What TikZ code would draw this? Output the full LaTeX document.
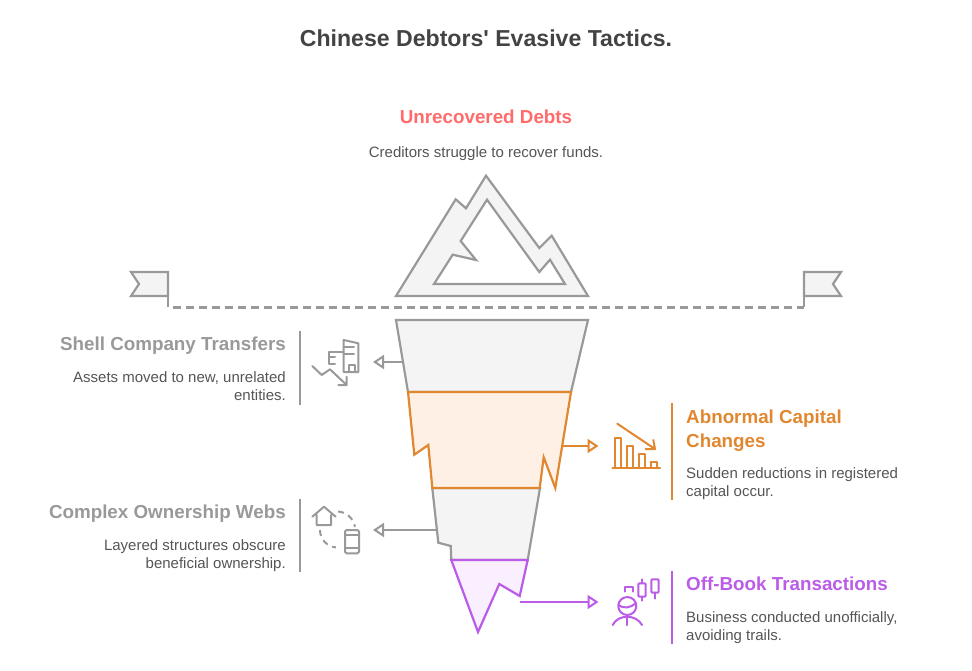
\documentclass[tikz,border=0pt]{standalone}
\usepackage{fontspec}
\setmainfont{Liberation Sans}
\usetikzlibrary{arrows.meta}
\definecolor{ink}{HTML}{434343}
\definecolor{body}{HTML}{555555}
\definecolor{rock}{HTML}{999999}
\definecolor{rockfill}{HTML}{F4F4F4}
\definecolor{redhead}{HTML}{FF6B6B}
\definecolor{orangeline}{HTML}{E0872F}
\definecolor{orangefill}{HTML}{FEF0E4}
\definecolor{purpleline}{HTML}{BB5CE8}
\definecolor{purplefill}{HTML}{F9EFFF}
\tikzset{
  title/.style={font=\bfseries\fontsize{23.1}{28}\selectfont,text=ink,inner sep=0pt,anchor=base},
  heading/.style={font=\bfseries\fontsize{18.8}{24}\selectfont,inner sep=0pt},
  blurb/.style={font=\fontsize{15}{18}\selectfont,text=body,inner sep=0pt},
  layer/.style={line width=2.2pt,line join=miter},
  icon/.style={line width=2pt,line cap=round,line join=round},
}
\begin{document}
\begin{tikzpicture}[>={Triangle[open,length=11pt,width=14pt]},x=1pt,y=-1pt]
	\useasboundingbox (0,0) rectangle (972,670);
	\node[title] (mainTitle) at (486,46) {Chinese Debtors\textquotesingle{} Evasive Tactics.};
	\node[heading,text=redhead,anchor=base] (topHead) at (486,123) {Unrecovered Debts};
	\node[blurb,anchor=base] (topText) at (486,157) {Creditors struggle to recover funds.};
	% flags and water line
	\coordinate (flagLeft) at (168,307.5);
	\coordinate (flagRight) at (804,307.5);
	\draw[layer,rock,fill=rockfill] (168,296) -- (131,296) -- (139,284) -- (131,272) -- (168,272) -- cycle;
	\draw[layer,rock,fill=rockfill] (804,296) -- (841,296) -- (833,284) -- (841,272) -- (804,272) -- cycle;
	\draw[layer,rock,dash pattern=on 8pt off 5pt,dash phase=-5pt] (flagLeft) -- (flagRight);
	\draw[layer,rock] (168,296) -- ([yshift=1pt]flagLeft);
	\draw[layer,rock] (804,296) -- ([yshift=1pt]flagRight);
	% peak
	\draw[layer,rock,fill=rockfill,even odd rule] (396,296) -- (455.7,199.3) -- (466,208.3) -- (486,175.7) -- (539.3,248) -- (551.7,235.7) -- (588,296) -- cycle
		(487,199.7) -- (460.7,241) -- (476,260) -- (452.7,254.7) -- (434,284) -- (565,284) -- (550,259.7) -- (539.3,272) -- cycle;
	% funnel
	\draw[layer,rock,fill=rockfill] (396,320) -- (588,320) -- (571,392) -- (408,392) -- cycle;
	\draw[layer,rock,fill=rockfill] (432.3,488) -- (540,488) -- (527.7,560) -- (451.3,560) -- (450.7,546) -- (438.3,542.7) -- cycle;
	\draw[layer,orangeline,fill=orangefill] (408,392) -- (571,392) -- (555.3,488) -- (543.7,457.3) -- (539.7,488) -- (432.3,488) -- (428.3,445) -- (414.3,454.7) -- cycle;
	\draw[layer,purpleline,fill=purplefill] (451.3,560) -- (527.7,560) -- (519.7,596) -- (499.3,584) -- (478,632) -- cycle;
	% connectors
	\coordinate (shellFrom) at (403.5,362);
	\coordinate (shellTo) at (373,362);
	\coordinate (websFrom) at (436,530);
	\coordinate (websTo) at (373,530);
	\coordinate (capFrom) at (562,446);
	\coordinate (capTo) at (598.5,446);
	\coordinate (bookFrom) at (519.5,602);
	\coordinate (bookTo) at (598.5,602);
	\draw[->,line width=2pt,rock] (shellFrom) -- (shellTo);
	\draw[->,line width=2pt,rock] (websFrom) -- (websTo);
	\draw[->,line width=2pt,orangeline] (capFrom) -- (capTo);
	\draw[->,line width=2pt,purpleline] (bookFrom) -- (bookTo);
	% rules beside the texts
	\draw[line width=2pt,rock] (300,331) -- (300,404.5);
	\draw[line width=2pt,rock] (300,499) -- (300,572);
	\draw[line width=2pt,orangeline] (672,403) -- (672,500);
	\draw[line width=2pt,purpleline] (672,571) -- (672,644);
	% left texts
	\node[heading,text=rock,anchor=base east] (shellHead) at (286,350.5) {Shell Company Transfers};
	\node[blurb,align=right,anchor=base east] (shellText) at (286,400) {Assets moved to new, unrelated\\entities.};
	\node[heading,text=rock,anchor=base east] (websHead) at (286,518.5) {Complex Ownership Webs};
	\node[blurb,align=right,anchor=base east] (websText) at (286,568) {Layered structures obscure\\beneficial ownership.};
	% right texts
	\node[heading,text=orangeline,align=left,anchor=base west] (capHead) at (686,447) {Abnormal Capital\\Changes};
	\node[blurb,align=left,anchor=base west] (capText) at (686,496) {Sudden reductions in registered\\capital occur.};
	\node[heading,text=purpleline,anchor=base west] (bookHead) at (686,590.5) {Off-Book Transactions};
	\node[blurb,align=left,anchor=base west] (bookText) at (686,640) {Business conducted unofficially,\\avoiding trails.};
	% building icon
	\draw[icon,rock] (343.7,372) -- (343.7,340) -- (358.3,343.3) -- (358.3,372) -- cycle;
	\draw[icon,rock] (343.7,347) -- (354,347) (343.7,354) -- (354,354) (348.5,372) -- (348.5,364.5) -- (354.5,364.5) -- (354.5,372);
	\draw[icon,rock] (343.7,351.7) -- (329,351.7) -- (329,363.5) (329,357) -- (335,357) (329,363.5) -- (335,363.5);
	\draw[icon,rock] (312.3,366) -- (321.7,375) -- (330,369.3) -- (346.7,385) (346.7,376.7) -- (346.7,385) -- (338.3,385);
	% house and phone icon
	\draw[icon,rock] (312.3,516.7) -- (324,506.7) -- (335.7,516.7) (316.7,515) -- (316.7,525) -- (331,525) -- (331,515);
	\draw[icon,rock,rounded corners=1.5pt] (345,530) rectangle (359,553.3);
	\draw[icon,rock] (345,535) -- (359,535) (345,548.3) -- (359,548.3);
	\draw[icon,rock,dash pattern=on 6pt off 5pt,line cap=butt] (338,511.5) arc[start angle=-86,end angle=-10,radius=18.5];
	\draw[icon,rock,dash pattern=on 6pt off 5pt,line cap=butt] (320,530) arc[start angle=180,end angle=95,radius=17.5];
	% bars icon
	\draw[icon,orangeline] (612.3,468) -- (660,468);
	\foreach \barx/\bartop in {614.7/437.7,627/445.7,639/453.7,651/462}
		\draw[icon,orangeline] (\barx,468) -- (\barx,\bartop) -- ({\barx+6.3},\bartop) -- ({\barx+6.3},468);
	\draw[icon,orangeline] (617.3,423.7) -- (655,449) (653.3,440) -- (655,449) -- (645.7,449);
	% person and candles icon
	\draw[icon,purpleline] (627.3,606) circle[radius=9];
	\draw[icon,purpleline] (618.5,605) .. controls (623,609) and (631,608) .. (636,603);
	\draw[icon,purpleline] (627.3,615) -- (627.3,625);
	\draw[icon,purpleline] (612.7,625) .. controls (618,614) and (636,614) .. (642,625);
	\draw[icon,purpleline] (625,591.7) -- (625,587.3) -- (632.7,587.3) -- (632.7,591.7);
	\draw[icon,purpleline,rounded corners=1pt] (638.3,583.3) rectangle (645.7,596.7);
	\draw[icon,purpleline] (642,579.3) -- (642,583.3) (642,596.7) -- (642,600.7);
	\draw[icon,purpleline,rounded corners=1pt] (651.3,579.3) rectangle (658.7,592.7);
	\draw[icon,purpleline] (655,592.7) -- (655,598.7);
\end{tikzpicture}
\end{document}
